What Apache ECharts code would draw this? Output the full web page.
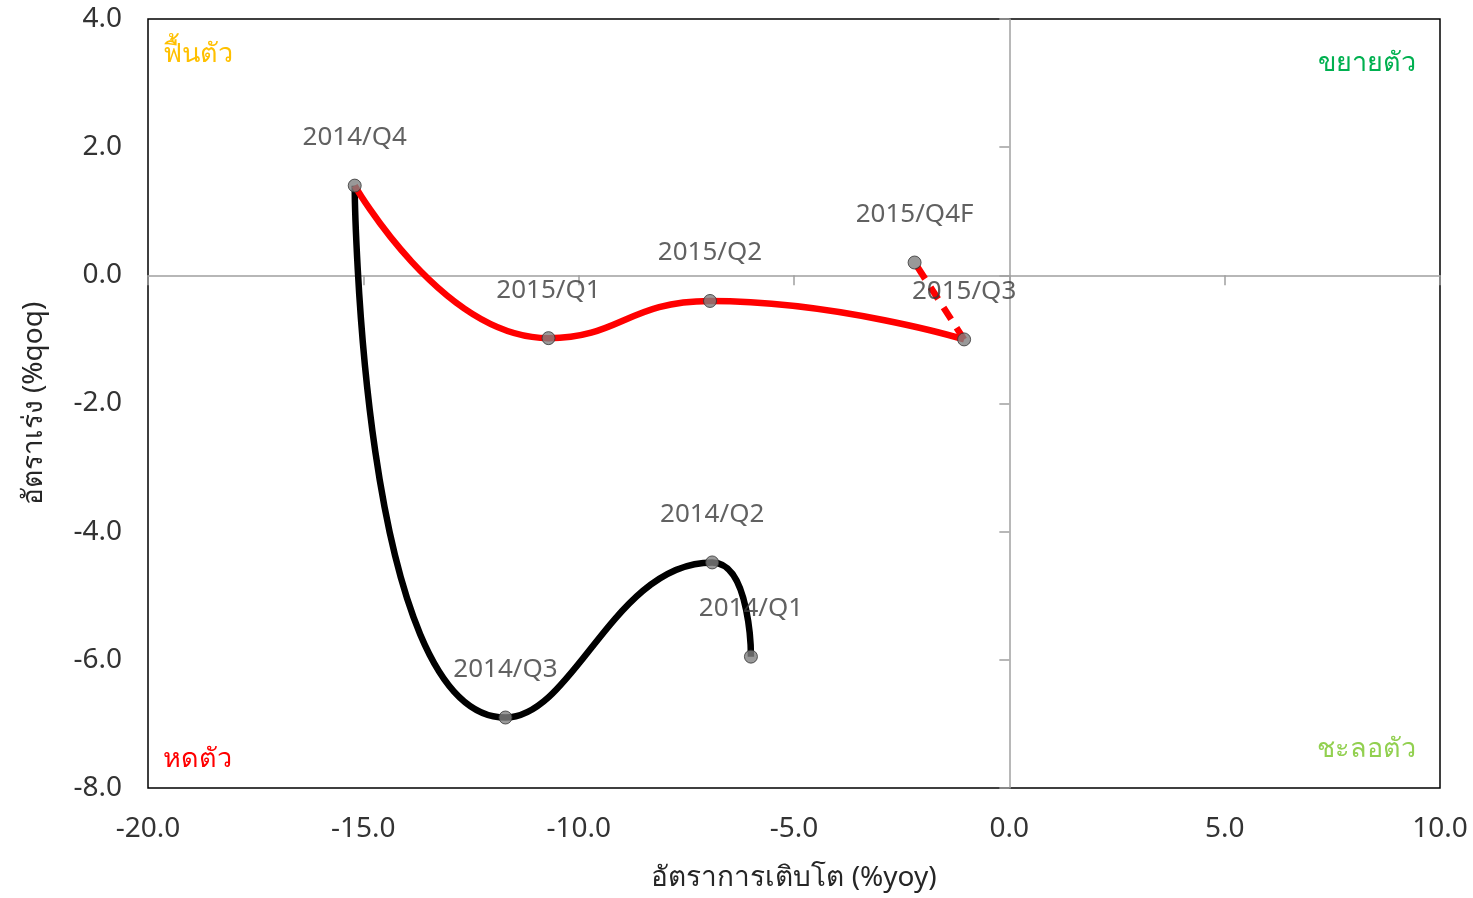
<!DOCTYPE html>
<html>
<head>
<meta charset="utf-8">
<script src="https://cdn.jsdelivr.net/npm/echarts@6/dist/echarts.min.js"></script>
<style>
  html, body { margin: 0; padding: 0; background: #fff; }
  #chart { width: 1473px; height: 898px; }
</style>
</head>
<body>
<div id="chart"></div>
<script>
// ข้อมูล (อ่านจากภาพ)
const quarters = ['2014/Q1', '2014/Q2', '2014/Q3', '2014/Q4', '2015/Q1', '2015/Q2', '2015/Q3', '2015/Q4F']
const growthYoy = [-6.0, -6.9, -11.7, -15.2, -10.7, -6.95, -1.05, -2.2]
const accelQoq = [-5.95, -4.48, -6.9, 1.4, -0.98, -0.4, -1.0, 0.2]
const xTicks = [-20, -15, -10, -5, 0, 5, 10]
const yTicks = [-8, -6, -4, -2, 0, 2, 4]

const font = '"Noto Sans", "DejaVu Sans", sans-serif'
const pt = (i) => [growthYoy[i], accelQoq[i]]

// 2014 = black, 2015 = red, forecast = red dashed
const line2014 = [0, 1, 2, 3].map(pt)
const line2015 = [3, 4, 5, 6].map(pt)
const lineForecast = [6, 7].map(pt)

const myCharts = echarts.init(document.getElementById('chart'))

const axisLabelStyle = {
  color: '#333',
  fontSize: 28,
  fontFamily: font,
  formatter: (v) => v.toFixed(1),
}

let option = {
  backgroundColor: '#fff',
  animation: false,
  grid: {
    left: 148,
    right: 33,
    top: 19,
    bottom: 110,
    show: true,
    borderColor: '#000',
    borderWidth: 1.5,
  },
  xAxis: [
    {
      type: 'value',
      position: 'bottom',
      min: xTicks[0],
      max: xTicks[xTicks.length - 1],
      interval: 5,
      name: 'อัตราการเติบโต (%yoy)',
      nameLocation: 'middle',
      nameGap: 76,
      nameTextStyle: { color: '#262626', fontSize: 28, fontFamily: font },
      axisLine: { show: false, onZero: false },
      axisTick: { show: false },
      splitLine: { show: false },
      axisLabel: { ...axisLabelStyle, margin: 27 },
    },
    {
      // เส้นแกน y=0 ขีดลง
      type: 'value',
      position: 'top',
      min: xTicks[0],
      max: xTicks[xTicks.length - 1],
      interval: 5,
      axisLine: { show: true, onZero: true, lineStyle: { color: '#a0a0a0', width: 1.5 } },
      axisTick: { show: true, inside: true, length: 10, lineStyle: { color: '#a0a0a0', width: 1.5 } },
      axisLabel: { show: false },
      splitLine: { show: false },
    },
  ],
  yAxis: [
    {
      type: 'value',
      position: 'left',
      min: yTicks[0],
      max: yTicks[yTicks.length - 1],
      interval: 2,
      name: 'อัตราเร่ง (%qoq)',
      nameLocation: 'middle',
      nameGap: 100,
      nameTextStyle: { color: '#262626', fontSize: 28, fontFamily: font },
      axisLine: { show: false, onZero: false },
      axisTick: { show: false },
      splitLine: { show: false },
      axisLabel: { ...axisLabelStyle, margin: 26 },
    },
    {
      // เส้นแกน x=0 ขีดไปทางซ้าย
      type: 'value',
      position: 'right',
      min: yTicks[0],
      max: yTicks[yTicks.length - 1],
      interval: 2,
      axisLine: { show: true, onZero: true, lineStyle: { color: '#a0a0a0', width: 1.5 } },
      axisTick: { show: true, inside: true, length: 10, lineStyle: { color: '#a0a0a0', width: 1.5 } },
      axisLabel: { show: false },
      splitLine: { show: false },
    },
  ],
  graphic: [
    { type: 'text', left: 163, top: 41, style: { text: 'ฟื้นตัว', fill: '#ffc000', font: '27px ' + font } },
    { type: 'text', right: 57, top: 50, style: { text: 'ขยายตัว', fill: '#00b050', font: '27px ' + font } },
    { type: 'text', left: 163, top: 746, style: { text: 'หดตัว', fill: '#ff0000', font: '27px ' + font } },
    { type: 'text', right: 57, top: 736, style: { text: 'ชะลอตัว', fill: '#92d050', font: '27px ' + font } },
  ],
  series: [
    {
      name: '2014',
      type: 'line',
      smooth: 0.6,
      showSymbol: false,
      data: line2014,
      lineStyle: { color: '#000', width: 6.5 },
      z: 3,
    },
    {
      name: '2015',
      type: 'line',
      smooth: 0.5,
      showSymbol: false,
      data: line2015,
      lineStyle: { color: '#ff0000', width: 6.5 },
      z: 3,
    },
    {
      name: 'forecast',
      type: 'line',
      showSymbol: false,
      data: lineForecast,
      lineStyle: { color: '#ff0000', width: 6.5, type: [14, 10] },
      z: 3,
    },
    {
      name: 'points',
      type: 'scatter',
      symbol: 'circle',
      symbolSize: 13,
      data: quarters.map((q, i) => ({ name: q, value: pt(i) })),
      itemStyle: { color: '#7f7f7f', borderColor: '#333', borderWidth: 1 },
      label: {
        show: true,
        position: 'top',
        distance: 28,
        formatter: (p) => p.name,
        color: '#3a3a3a',
        fontSize: 26,
        fontFamily: font,
      },
      z: 5,
    },
  ],
}

myCharts.setOption(option)
</script>
</body>
</html>
